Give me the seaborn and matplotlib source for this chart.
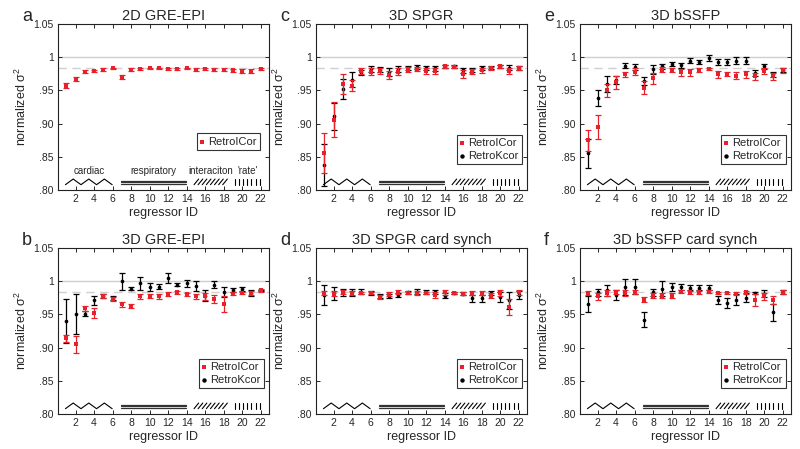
import numpy as np
import matplotlib.pyplot as plt
import seaborn as sns

# ---- data ----
regressor_id = list(range(1, 23))

# a: 2D GRE-EPI (RetroICor only)
a_icor = [0.957, 0.967, 0.978, 0.979, 0.981, 0.983, 0.970, 0.981, 0.982, 0.983, 0.983,
          0.982, 0.982, 0.983, 0.981, 0.982, 0.981, 0.981, 0.980, 0.979, 0.979, 0.982]
a_icor_err = [0.004, 0.003, 0.002, 0.002, 0.002, 0.001, 0.003, 0.002, 0.001, 0.001, 0.001,
              0.001, 0.001, 0.001, 0.002, 0.001, 0.002, 0.002, 0.002, 0.003, 0.003, 0.002]

# b: 3D GRE-EPI
b_icor = [0.914, 0.905, 0.959, 0.952, 0.977, 0.973, 0.965, 0.963, 0.977, 0.977, 0.977,
          0.981, 0.983, 0.980, 0.977, 0.977, 0.973, 0.965, 0.981, 0.982, 0.982, 0.986]
b_icor_err = [0.005, 0.013, 0.004, 0.007, 0.003, 0.003, 0.004, 0.003, 0.004, 0.003, 0.004,
              0.003, 0.002, 0.002, 0.004, 0.005, 0.006, 0.012, 0.002, 0.002, 0.003, 0.002]
b_kcor = [0.940, 0.950, 0.951, 0.971, 0.977, 0.975, 1.000, 0.989, 0.997, 0.991, 0.992,
          1.005, 0.995, 0.997, 0.993, 0.978, 0.995, 0.984, 0.987, 0.988, 0.982, 0.986]
b_kcor_err = [0.033, 0.030, 0.004, 0.007, 0.003, 0.003, 0.013, 0.003, 0.010, 0.006, 0.004,
              0.008, 0.002, 0.005, 0.008, 0.008, 0.005, 0.008, 0.003, 0.003, 0.005, 0.001]

# c: 3D SPGR
c_icor = [0.856, 0.906, 0.960, 0.957, 0.979, 0.978, 0.979, 0.973, 0.978, 0.981, 0.982,
          0.979, 0.979, 0.986, 0.985, 0.974, 0.978, 0.980, 0.983, 0.986, 0.979, 0.983]
c_icor_err = [0.030, 0.026, 0.015, 0.008, 0.004, 0.005, 0.004, 0.006, 0.005, 0.004, 0.003,
              0.005, 0.005, 0.003, 0.002, 0.006, 0.004, 0.004, 0.002, 0.002, 0.004, 0.003]
c_kcor = [0.838, 0.911, 0.952, 0.966, 0.977, 0.982, 0.981, 0.977, 0.982, 0.983, 0.985,
          0.983, 0.983, 0.986, 0.986, 0.980, 0.980, 0.983, 0.984, 0.986, 0.984, 0.984]
c_kcor_err = [0.032, 0.020, 0.015, 0.011, 0.004, 0.005, 0.004, 0.006, 0.004, 0.003, 0.003,
              0.003, 0.004, 0.003, 0.002, 0.004, 0.003, 0.003, 0.002, 0.002, 0.004, 0.003]

# d: 3D SPGR card synch
d_icor = [0.982, 0.981, 0.983, 0.982, 0.982, 0.982, 0.976, 0.981, 0.984, 0.982, 0.982,
          0.982, 0.979, 0.983, 0.982, 0.981, 0.982, 0.982, 0.978, 0.982, 0.961, 0.983]
d_icor_err = [0.003, 0.004, 0.003, 0.003, 0.002, 0.002, 0.003, 0.003, 0.003, 0.002, 0.003,
              0.002, 0.004, 0.004, 0.002, 0.002, 0.003, 0.003, 0.004, 0.004, 0.012, 0.004]
d_kcor = [0.979, 0.982, 0.983, 0.983, 0.984, 0.982, 0.977, 0.977, 0.979, 0.983, 0.984,
          0.983, 0.984, 0.978, 0.982, 0.981, 0.974, 0.974, 0.982, 0.976, 0.971, 0.979]
d_kcor_err = [0.015, 0.010, 0.005, 0.005, 0.004, 0.003, 0.003, 0.003, 0.003, 0.002, 0.004,
              0.003, 0.003, 0.004, 0.002, 0.002, 0.005, 0.005, 0.003, 0.007, 0.013, 0.006]

# e: 3D bSSFP
e_icor = [0.875, 0.895, 0.950, 0.962, 0.974, 0.978, 0.954, 0.968, 0.981, 0.980, 0.977,
          0.977, 0.981, 0.982, 0.974, 0.974, 0.972, 0.974, 0.971, 0.979, 0.971, 0.980]
e_icor_err = [0.016, 0.018, 0.010, 0.010, 0.004, 0.005, 0.010, 0.008, 0.004, 0.003, 0.005,
              0.005, 0.003, 0.002, 0.005, 0.003, 0.005, 0.005, 0.005, 0.004, 0.005, 0.004]
e_kcor = [0.855, 0.939, 0.960, 0.966, 0.987, 0.985, 0.964, 0.982, 0.986, 0.990, 0.988,
          0.995, 0.993, 0.999, 0.993, 0.993, 0.995, 0.995, 0.976, 0.986, 0.974, 0.981]
e_kcor_err = [0.022, 0.012, 0.012, 0.006, 0.004, 0.005, 0.006, 0.007, 0.004, 0.003, 0.004,
              0.004, 0.003, 0.005, 0.004, 0.004, 0.005, 0.005, 0.005, 0.004, 0.004, 0.003]

# f: 3D bSSFP card synch
f_icor = [0.982, 0.977, 0.982, 0.983, 0.982, 0.983, 0.972, 0.978, 0.978, 0.978, 0.984,
          0.983, 0.983, 0.984, 0.982, 0.982, 0.981, 0.983, 0.971, 0.977, 0.971, 0.984]
f_icor_err = [0.003, 0.005, 0.004, 0.003, 0.004, 0.003, 0.004, 0.004, 0.004, 0.004, 0.002,
              0.002, 0.002, 0.002, 0.002, 0.002, 0.002, 0.002, 0.009, 0.005, 0.006, 0.003]
f_kcor = [0.966, 0.983, 0.986, 0.979, 0.991, 0.992, 0.942, 0.983, 0.989, 0.991, 0.991,
          0.990, 0.990, 0.990, 0.972, 0.967, 0.972, 0.975, 0.982, 0.981, 0.953, 0.984]
f_kcor_err = [0.012, 0.005, 0.008, 0.008, 0.012, 0.011, 0.011, 0.005, 0.012, 0.006, 0.005,
              0.004, 0.004, 0.004, 0.006, 0.008, 0.008, 0.007, 0.002, 0.005, 0.013, 0.003]

# regressor groups (start, end on the regressor axis) and their names
group_names = ["cardiac", "respiratory", "interaciton", "'rate'"]
group_spans = [(0.9, 5.95), (6.95, 13.9), (14.8, 18.4), (19.2, 21.9)]

ref_full = 1.0
ref_dashed = 0.983

y_ticks = [0.80, 0.85, 0.90, 0.95, 1.00, 1.05]
y_tick_labels = [".80", ".85", ".90", ".95", "1", "1.05"]
x_ticks = list(range(2, 23, 2))

RED = "#e8202a"

# ---- style ----
sns.set_style("ticks")
plt.rcParams["font.family"] = ["Liberation Sans", "DejaVu Sans"]
plt.rcParams["mathtext.fontset"] = "custom"
plt.rcParams["mathtext.rm"] = "Liberation Sans"

fig = plt.figure(figsize=(8, 4.49), dpi=100)

W, H = 800, 449
col_left = [58, 316, 580]
col_width = 211
row_top = [24, 248]
row_height = 166


def make_ax(row, col):
    l = col_left[col] / W
    b = 1 - (row_top[row] + row_height) / H
    return fig.add_axes([l, b, col_width / W, row_height / H])


def draw_groups(ax, with_names):
    lo, hi = 0.808, 0.8165
    c0, c1 = group_spans[0]
    zx = np.linspace(c0, c1, 7)
    zy = [lo if i % 2 == 0 else hi for i in range(7)]
    ax.plot(zx, zy, color="black", lw=0.8)
    r0, r1 = group_spans[1]
    for yy in [0.8092, 0.8118, 0.8143]:
        ax.plot([r0, r1], [yy, yy], color="#333333", lw=0.9)
    i0, i1 = group_spans[2]
    for xs in np.linspace(i0, i1 - 0.5, 8):
        ax.plot([xs, xs + 0.5], [lo, hi], color="black", lw=0.8)
    t0, t1 = group_spans[3]
    for xs in np.linspace(t0, t1, 7):
        ax.plot([xs, xs], [lo - 0.001, hi], color="black", lw=0.8)
    if with_names:
        for name, (s0, s1) in zip(group_names, group_spans):
            ax.text((s0 + s1) / 2, 0.829, name, ha="center", va="center", fontsize=7)


def draw_panel(ax, letter, title, icor, icor_err, kcor=None, kcor_err=None, names=False):
    ax.axhline(ref_full, color="#cfcfcf", lw=1, zorder=0)
    ax.axhline(ref_dashed, color="#cfcfcf", lw=1, ls=(0, (6, 4)), zorder=0)
    if kcor is not None:
        ax.errorbar(regressor_id, kcor, yerr=kcor_err, fmt="none", ecolor="black",
                    elinewidth=0.9, capsize=2, capthick=0.9, zorder=2)
        sns.scatterplot(x=regressor_id, y=kcor, color="black", s=7, linewidth=0,
                        ax=ax, label="RetroKcor", zorder=3)
    ax.errorbar(regressor_id, icor, yerr=icor_err, fmt="none", ecolor=RED,
                elinewidth=0.9, capsize=2, capthick=0.9, zorder=4)
    sns.scatterplot(x=regressor_id, y=icor, color=RED, s=7, marker="s", linewidth=0,
                    ax=ax, label="RetroICor", zorder=5)

    draw_groups(ax, names)

    ax.set_xlim(0.1, 22.9)
    ax.set_ylim(0.80, 1.05)
    ax.set_xticks(x_ticks)
    ax.set_yticks(y_ticks)
    ax.set_yticklabels(y_tick_labels)
    ax.tick_params(direction="in", top=True, right=True, length=3, width=0.7,
                   labelsize=7.5, pad=3)
    for sp in ax.spines.values():
        sp.set_linewidth(0.8)
        sp.set_color("#222222")
    ax.set_xlabel("regressor ID", fontsize=9, labelpad=2)
    ax.set_ylabel("normalized σ$^2$", fontsize=9, labelpad=3)
    ax.set_title(title, fontsize=10.5, pad=3)
    ax.text(-0.17, 1.045, letter, transform=ax.transAxes, fontsize=13,
            ha="left", va="center")

    handles, labels = ax.get_legend_handles_labels()
    order = sorted(range(len(labels)), key=lambda i: labels[i] != "RetroICor")
    if kcor is not None:
        anchor = (0.975, 0.155)
    else:
        anchor = (0.955, 0.24)
    leg = ax.legend([handles[i] for i in order], [labels[i] for i in order],
                    loc="lower right", bbox_to_anchor=anchor, fontsize=8,
                    frameon=True, fancybox=False, edgecolor="black",
                    handlelength=0.4, handletextpad=0.3, borderpad=0.3,
                    labelspacing=0.25, markerscale=1.2, borderaxespad=0)
    leg.get_frame().set_linewidth(0.8)


ax_a = make_ax(0, 0)
draw_panel(ax_a, "a", "2D GRE-EPI", a_icor, a_icor_err, names=True)
ax_b = make_ax(1, 0)
draw_panel(ax_b, "b", "3D GRE-EPI", b_icor, b_icor_err, b_kcor, b_kcor_err)
ax_c = make_ax(0, 1)
draw_panel(ax_c, "c", "3D SPGR", c_icor, c_icor_err, c_kcor, c_kcor_err)
ax_d = make_ax(1, 1)
draw_panel(ax_d, "d", "3D SPGR card synch", d_icor, d_icor_err, d_kcor, d_kcor_err)
ax_e = make_ax(0, 2)
draw_panel(ax_e, "e", "3D bSSFP", e_icor, e_icor_err, e_kcor, e_kcor_err)
ax_f = make_ax(1, 2)
draw_panel(ax_f, "f", "3D bSSFP card synch", f_icor, f_icor_err, f_kcor, f_kcor_err)

fig.savefig("out.png", dpi=100)
